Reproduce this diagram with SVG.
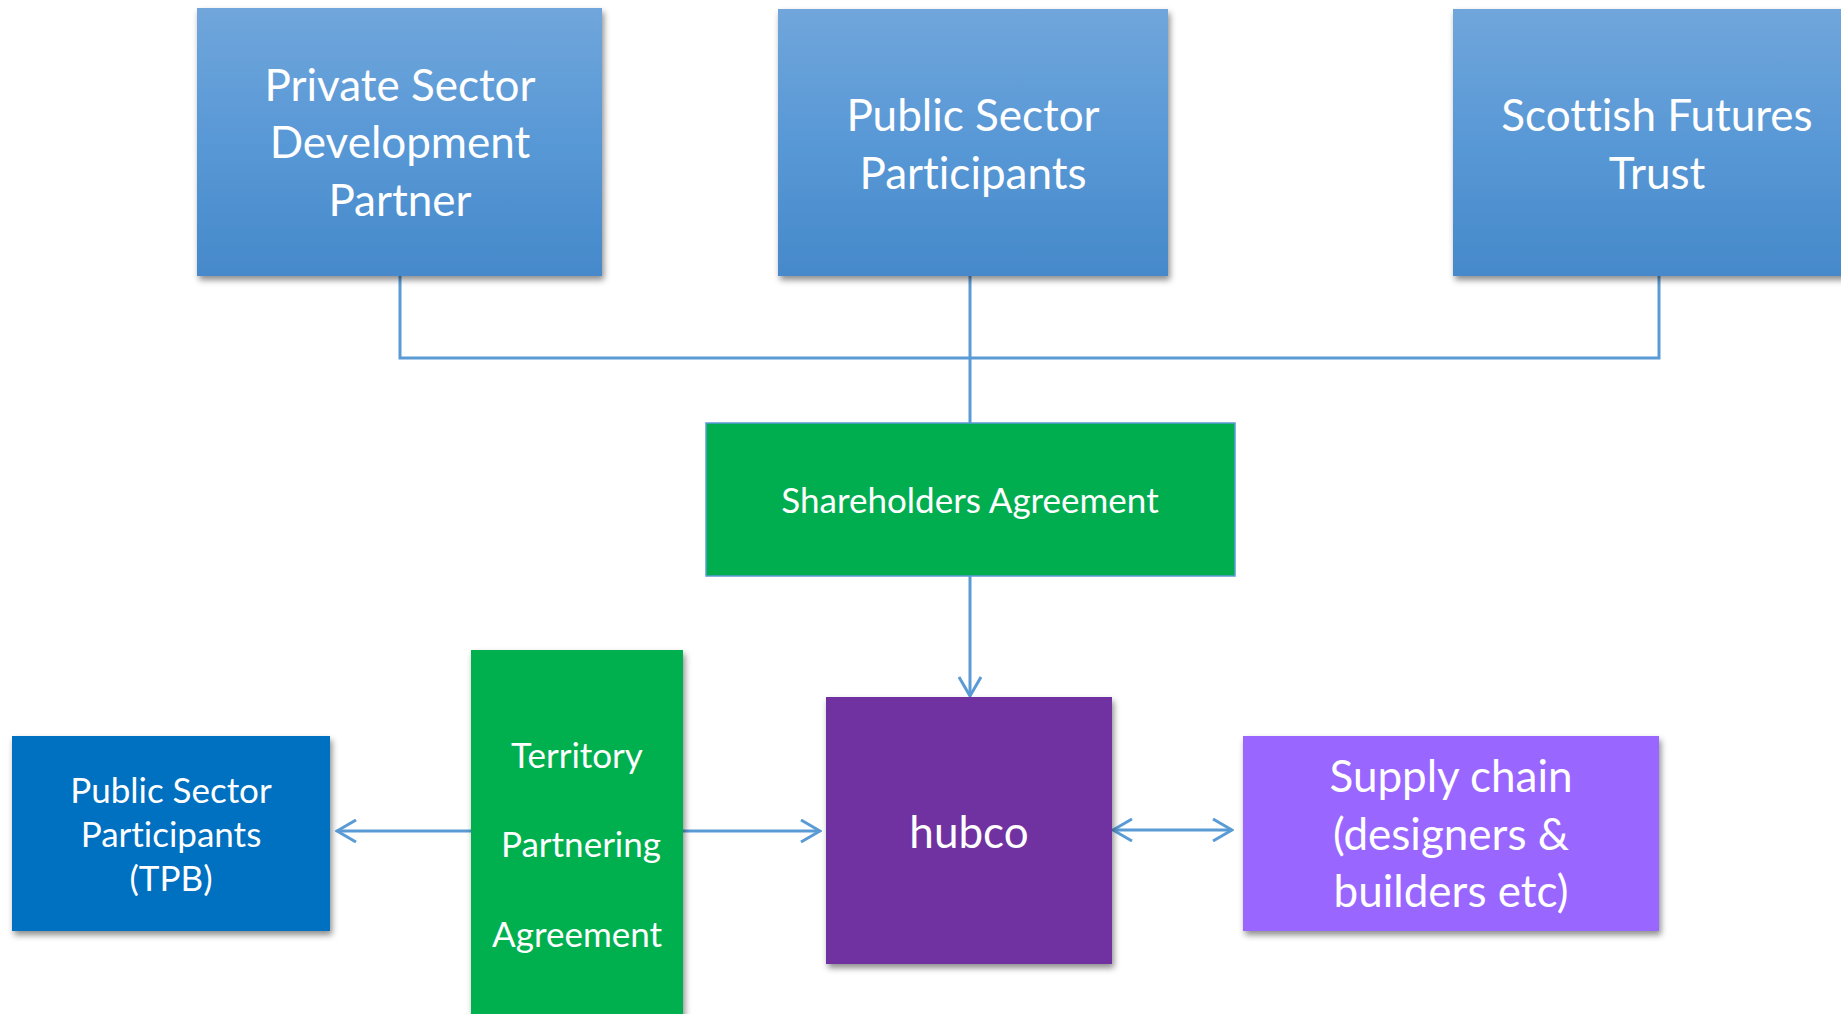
<svg xmlns="http://www.w3.org/2000/svg" width="1841" height="1014" viewBox="0 0 1841 1014">
<defs>
<linearGradient id="blueGrad" x1="0" y1="0" x2="0" y2="1">
<stop offset="0" stop-color="#70A6DB"/>
<stop offset="0.5" stop-color="#5898D6"/>
<stop offset="1" stop-color="#4689CA"/>
</linearGradient>
<filter id="shadow" x="-10%" y="-10%" width="125%" height="125%">
<feDropShadow dx="2" dy="4" stdDeviation="3" flood-color="#000" flood-opacity="0.45"/>
</filter>
<marker id="arrow" viewBox="0 0 24 24" markerWidth="24" markerHeight="24" refX="22" refY="12" orient="auto-start-reverse" markerUnits="userSpaceOnUse">
<path d="M3,1 L22,12 L3,23" fill="none" stroke="#5B9BD5" stroke-width="3"/>
</marker>
</defs>
<style>
text { font-family: Lato, "Liberation Sans", sans-serif; fill: #ffffff; text-anchor: middle; font-variant-ligatures: none; font-feature-settings: "liga" 0, "clig" 0, "dlig" 0, "calt" 0; }
.big { font-size: 44px; }
.mid { font-size: 35px; }
.conn { fill: none; stroke: #5B9BD5; stroke-width: 3; }
</style>
<rect width="1841" height="1014" fill="#ffffff"/>
<g id="connectors">
<path class="conn" d="M400,276 V358 H1659 V276"/>
<path class="conn" d="M970,276 V423"/>
<path class="conn" d="M970,576 V696" marker-end="url(#arrow)"/>
<path class="conn" d="M471,831 H337" marker-end="url(#arrow)"/>
<path class="conn" d="M683,831 H820" marker-end="url(#arrow)"/>
<path class="conn" d="M1113,830 H1232" marker-start="url(#arrow)" marker-end="url(#arrow)"/>
</g>
<g id="private-sector">
<rect x="197" y="8" width="405" height="268" fill="url(#blueGrad)" filter="url(#shadow)"/>
<text class="big" x="400" y="101">Private Sector</text>
<text class="big" x="400" y="158">Development</text>
<text class="big" x="400" y="216">Partner</text>
</g>
<g id="public-sector">
<rect x="778" y="9" width="390" height="267" fill="url(#blueGrad)" filter="url(#shadow)"/>
<text class="big" x="973" y="131">Public Sector</text>
<text class="big" x="973" y="189">Participants</text>
</g>
<g id="scottish-futures">
<rect x="1453" y="9" width="410" height="267" fill="url(#blueGrad)" filter="url(#shadow)"/>
<text class="big" x="1657" y="131">Scottish Futures</text>
<text class="big" x="1657" y="189">Trust</text>
</g>
<g id="shareholders">
<rect x="706" y="423" width="529" height="153" fill="#00AE50" stroke="#5B9BD5" stroke-width="1.5"/>
<text class="mid" x="970" y="513">Shareholders Agreement</text>
</g>
<g id="territory">
<rect x="471" y="650" width="212" height="370" fill="#00B050" filter="url(#shadow)"/>
<text class="mid" x="577" y="768">Territory</text>
<text class="mid" x="581" y="857">Partnering</text>
<text class="mid" x="577" y="947">Agreement</text>
</g>
<g id="tpb">
<rect x="12" y="736" width="318" height="195" fill="#0070C0" filter="url(#shadow)"/>
<text class="mid" x="171" y="803">Public Sector</text>
<text class="mid" x="171" y="847">Participants</text>
<text class="mid" x="171" y="891">(TPB)</text>
</g>
<g id="hubco">
<rect x="826" y="697" width="286" height="267" fill="#7030A0" filter="url(#shadow)"/>
<text class="big" x="969" y="848">hubco</text>
</g>
<g id="supply-chain">
<rect x="1243" y="736" width="416" height="195" fill="#9966FF" filter="url(#shadow)"/>
<text class="big" x="1451" y="792">Supply chain</text>
<text class="big" x="1451" y="850">(designers &amp;</text>
<text class="big" x="1451" y="907">builders etc)</text>
</g>
</svg>
